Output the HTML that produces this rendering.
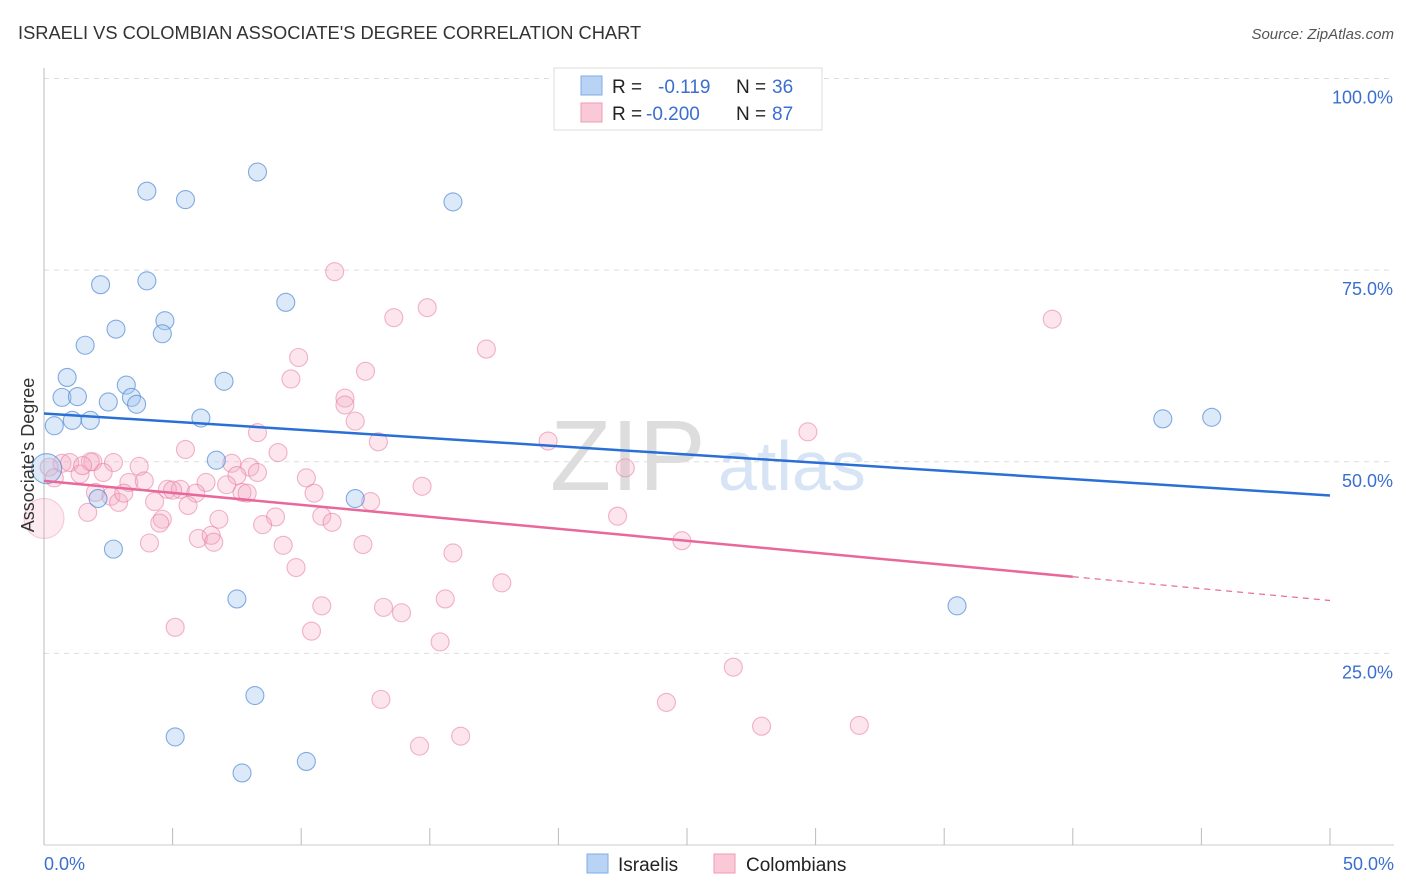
<!DOCTYPE html>
<html><head><meta charset="utf-8">
<style>
body{margin:0;background:#fff;font-family:"Liberation Sans",sans-serif;}
#wrap{position:relative;width:1406px;height:892px;overflow:hidden;}
svg text{font-family:"Liberation Sans",sans-serif;}
</style></head>
<body>
<div id="wrap">
<svg id="chart" width="1406" height="892">
  <text x="18" y="39" font-size="18.3" fill="#333">ISRAELI VS COLOMBIAN ASSOCIATE'S DEGREE CORRELATION CHART</text>
  <text x="1394" y="39" font-size="15" fill="#555" font-style="italic" text-anchor="end">Source: ZipAtlas.com</text>
  <text x="550" y="490" font-size="100" fill="#ddd" font-family="Liberation Serif">ZIP</text>
  <text x="718" y="490" font-size="70" fill="#d6e4f5">atlas</text>
  <g id="grid"></g>
  <g id="ticks"></g>
  <g id="pts"></g>
  <g id="trend"></g>
  <text x="34" y="455" font-size="18" fill="#333" text-anchor="middle" transform="rotate(-90 34 455)">Associate's Degree</text>
  <g>
    <rect x="554" y="68" width="268" height="62" fill="#fff" stroke="#ddd"/>
    <rect x="581" y="76" width="21" height="19" fill="#b8d3f4" stroke="#7eaee8"/>
    <rect x="581" y="103" width="21" height="19" fill="#f9c9d8" stroke="#f09ab5"/>
    <text x="612" y="93" font-size="19" fill="#222">R = </text><text x="658" y="93" font-size="19" fill="#3a6fd0">-0.119</text>
    <text x="736" y="93" font-size="19" fill="#222">N = </text><text x="772" y="93" font-size="19" fill="#3a6fd0">36</text>
    <text x="612" y="120" font-size="19" fill="#222">R = </text><text x="646" y="120" font-size="19" fill="#3a6fd0">-0.200</text>
    <text x="736" y="120" font-size="19" fill="#222">N = </text><text x="772" y="120" font-size="19" fill="#3a6fd0">87</text>
  </g>
  <g>
    <rect x="587" y="854" width="21" height="19" fill="#b8d3f4" stroke="#7eaee8"/>
    <text x="618" y="871" font-size="19" fill="#222">Israelis</text>
    <rect x="714" y="854" width="21" height="19" fill="#f9c9d8" stroke="#f09ab5"/>
    <text x="746" y="871" font-size="19" fill="#222">Colombians</text>
  </g>
</svg>
</div>
<script>
const yTicks=[25,50,75,100];
const yTickLabels=["25.0%","50.0%","75.0%","100.0%"];
const xTickLabels=["0.0%","50.0%"];
const israeliX=[8.3,4.0,5.5,15.9,2.2,4.0,9.4,4.7,2.8,4.6,1.6,0.9,3.2,7.0,0.7,1.3,2.5,3.4,3.6,0.4,1.1,1.8,6.1,43.5,45.4,0.1,6.7,2.1,12.1,2.7,7.5,35.5,8.2,5.1,7.7,10.2];
const israeliY=[87.8,85.3,84.2,83.9,73.1,73.6,70.8,68.4,67.3,66.7,65.2,61.0,60.0,60.5,58.4,58.5,57.8,58.4,57.5,54.7,55.4,55.4,55.7,55.6,55.8,49.1,50.2,45.2,45.2,38.6,32.1,31.2,19.5,14.1,9.4,10.9];
const israeliR=[9,9,9,9,9,9,9,9,9,9,9,9,9,9,9,9,9,9,9,9,9,9,9,9,9,15,9,9,9,9,9,9,9,9,9,9];
const colX=[11.3,14.9,13.6,39.2,17.2,9.9,12.5,9.6,11.7,11.7,12.1,8.3,13.0,19.6,29.7,5.5,9.1,0.7,1.0,1.9,2.7,3.7,7.3,8.0,2.3,1.4,0.2,0.4,8.3,22.6,10.2,14.7,3.3,3.9,6.3,7.5,2.6,2.9,3.1,4.3,4.8,5.3,5.9,7.7,7.9,10.5,12.7,1.7,5.6,6.8,9.0,4.6,4.5,8.5,10.8,11.2,22.3,0.0,4.1,6.0,6.5,6.6,9.3,12.4,15.9,24.8,9.8,17.8,10.8,13.2,13.9,15.6,5.1,10.4,15.4,26.8,13.1,24.2,27.9,31.7,14.6,16.2,1.8,1.5,5.0,2.0,7.1];
const colY=[74.8,70.1,68.8,68.6,64.7,63.6,61.8,60.8,58.3,57.4,55.3,53.8,52.6,52.7,53.9,51.6,51.2,49.8,49.9,50.0,49.9,49.4,49.8,49.3,48.6,48.4,49.3,47.9,48.6,49.2,47.9,46.8,47.3,47.5,47.3,48.2,45.5,44.7,45.9,44.8,46.4,46.4,45.9,46.0,45.9,45.9,44.8,43.4,44.3,42.5,42.8,42.5,42.0,41.8,42.9,42.1,42.9,42.6,39.4,40.0,40.4,39.5,39.1,39.2,38.1,39.7,36.2,34.2,31.2,31.0,30.3,32.1,28.4,27.9,26.5,23.2,19.0,18.6,15.5,15.6,12.9,14.2,50.0,49.5,46.3,46.0,47.0];
const colR=colX.map((v,i)=>i===57?20:9);
const blueTrend=[56.3,45.6,0,50];
const pinkTrend=[47.5,35.0,0,40,31.9,50];

const NS="http://www.w3.org/2000/svg";
const X0=44,X1=1330,Y0=845,YK=7.665;
const sx=v=>X0+(v/50)*(X1-X0);
const sy=v=>Y0-v*YK;
function mk(tag,attrs,parent){const e=document.createElementNS(NS,tag);for(const k in attrs)e.setAttribute(k,attrs[k]);parent.appendChild(e);return e;}
const grid=document.getElementById('grid'),ticks=document.getElementById('ticks'),pts=document.getElementById('pts'),trend=document.getElementById('trend');
yTicks.forEach((t,i)=>{
  const l=mk('line',{x1:X0,x2:1394,y1:sy(t),y2:sy(t),stroke:'#ddd','stroke-dasharray':'5,5'},grid);
  
  
  const tx=mk('text',{x:1393,y:sy(t)+25,'font-size':18,fill:'#3a6fd0','text-anchor':'end'},ticks);
  tx.textContent=yTickLabels[i];
  
  
});
const ax=mk('line',{x1:X0,x2:X0,y1:68,y2:Y0,stroke:'#bbb'},ticks);


const bx=mk('line',{x1:X0,x2:1394,y1:Y0,y2:Y0,stroke:'#ccc'},ticks);


for(let i=0;i<=10;i++){
  const m=mk('line',{x1:sx(i*5),x2:sx(i*5),y1:828,y2:Y0,stroke:'#bbb'},ticks);
  
  
}
[[0,'start',X0],[1,'end',1394]].forEach(([i,a,x])=>{
  const t=mk('text',{x:x,y:870,'font-size':18,fill:'#3a6fd0','text-anchor':a},ticks);
  t.textContent=xTickLabels[i];
  
  
});
colX.forEach((v,i)=>{
  const big=colR[i]>12;
  const c=mk('circle',{cx:sx(v),cy:sy(colY[i]),r:colR[i],fill:big?'rgba(244,170,195,0.25)':'rgba(244,170,195,0.3)',stroke:big?'rgba(232,120,156,0.35)':'rgba(232,120,156,0.55)','stroke-width':1.1},pts);
  
  
});
israeliX.forEach((v,i)=>{
  const c=mk('circle',{cx:sx(v),cy:sy(israeliY[i]),r:israeliR[i],fill:'rgba(160,196,240,0.38)',stroke:'rgba(70,130,210,0.65)','stroke-width':1.1},pts);
  
  
});
const bl=mk('line',{x1:sx(blueTrend[2]),y1:sy(blueTrend[0]),x2:sx(blueTrend[3]),y2:sy(blueTrend[1]),stroke:'#2a6fd6','stroke-width':2.5},trend);


const pl=mk('line',{x1:sx(pinkTrend[2]),y1:sy(pinkTrend[0]),x2:sx(pinkTrend[3]),y2:sy(pinkTrend[1]),stroke:'#e8689a','stroke-width':2.5},trend);


const pd=mk('line',{x1:sx(pinkTrend[3]),y1:sy(pinkTrend[1]),x2:sx(pinkTrend[5]),y2:sy(pinkTrend[4]),stroke:'#e8689a','stroke-width':1.2,'stroke-dasharray':'6,5'},trend);


</script>
</body></html>
